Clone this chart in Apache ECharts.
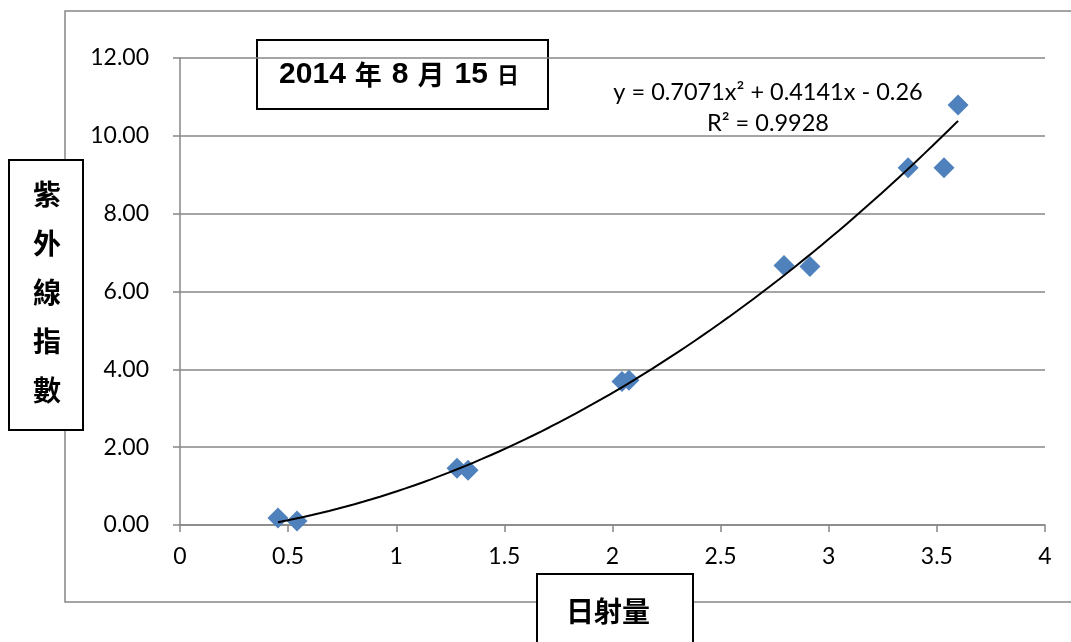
<!DOCTYPE html>
<html>
<head>
<meta charset="utf-8">
<script src="https://cdn.jsdelivr.net/npm/echarts@6/dist/echarts.min.js"></script>
<style>
  html, body { margin: 0; padding: 0; background: #fff; }
  #chart { width: 1071px; height: 642px; }
</style>
</head>
<body>
<div id="chart"></div>
<script>
// Daily radiation (x) vs. UV index (y), 2014-08-15
const radiation = [0.453, 0.541, 1.281, 1.332, 2.044, 2.076, 2.793, 2.913, 3.367, 3.533, 3.598];
const uvIndex   = [0.18, 0.10, 1.46, 1.41, 3.69, 3.72, 6.67, 6.64, 9.18, 9.18, 10.79];

// Polynomial trendline coefficients (c2, c1, c0) and its R²
const trendCoef = [0.7071, 0.4141, -0.26];
const trendR2 = 0.9928;

const xTicks = [0, 0.5, 1, 1.5, 2, 2.5, 3, 3.5, 4];
const yTicks = [0, 2, 4, 6, 8, 10, 12];

const points = radiation.map((x, i) => [x, uvIndex[i]]);

// Sample the trendline across the observed radiation range
const xLo = Math.min(...radiation), xHi = Math.max(...radiation);
const trend = [];
for (let k = 0; k <= 80; k++) {
  const x = xLo + (xHi - xLo) * k / 80;
  trend.push([x, trendCoef[0] * x * x + trendCoef[1] * x + trendCoef[2]]);
}

const fmtSigned = v => (v < 0 ? ' - ' + Math.abs(v) : ' + ' + v);
const eqText = 'y = ' + trendCoef[0] + 'x²' + fmtSigned(trendCoef[1]) + 'x' + fmtSigned(trendCoef[2]);

const tickFont = 'Lato, "Open Sans", sans-serif';
const cjkFont = '"Noto Sans CJK TC", "Noto Sans CJK SC", sans-serif';
const gridGrey = '#878787';

const chart = echarts.init(document.getElementById('chart'));
chart.setOption({
  animation: false,
  backgroundColor: '#ffffff',
  grid: { left: 180, right: 26, top: 58, bottom: 117, containLabel: false },
  xAxis: {
    type: 'value',
    min: xTicks[0], max: xTicks[xTicks.length - 1], interval: 0.5,
    axisLine: { show: true, lineStyle: { color: gridGrey, width: 1.5 } },
    axisTick: { show: true, length: 7, lineStyle: { color: gridGrey, width: 1.5 } },
    splitLine: { show: false },
    axisLabel: { color: '#000', fontFamily: tickFont, fontSize: 23, margin: 20 }
  },
  yAxis: {
    type: 'value',
    min: yTicks[0], max: yTicks[yTicks.length - 1], interval: 2,
    axisLine: { show: true, onZero: false, lineStyle: { color: gridGrey, width: 1.5 } },
    axisTick: { show: true, length: 7, lineStyle: { color: gridGrey, width: 1.5 } },
    splitLine: { show: true, lineStyle: { color: gridGrey, width: 1.5 } },
    axisLabel: {
      color: '#000', fontFamily: tickFont, fontSize: 23, margin: 31,
      formatter: v => v.toFixed(2)
    }
  },
  series: [
    {
      type: 'scatter',
      data: points,
      symbol: 'diamond',
      symbolSize: 21,
      itemStyle: { color: '#4F81BD', opacity: 1 },
      z: 2
    },
    {
      type: 'line',
      data: trend,
      showSymbol: false,
      smooth: false,
      lineStyle: { color: '#000', width: 2 },
      z: 3
    }
  ],
  graphic: [
    // chart frame (open on the right edge)
    {
      type: 'rect', z: 0,
      shape: { x: 65, y: 11, width: 1030, height: 591 },
      style: { fill: 'none', stroke: gridGrey, lineWidth: 1.5 }
    },
    // date title box
    {
      type: 'group', z: 100,
      children: [
        {
          type: 'rect',
          shape: { x: 257, y: 40, width: 291, height: 69 },
          style: { fill: '#fff', stroke: '#000', lineWidth: 2 }
        },
        {
          type: 'text',
          x: 399, y: 75,
          style: {
            text: '{n|2014}{c|年}{n|8}{c|月}{n|15}{s|日}',
            align: 'center', verticalAlign: 'middle',
            rich: {
              n: { fontFamily: '"Liberation Sans", Arial, sans-serif', fontWeight: 'bold', fontSize: 30, fill: '#000' },
              c: { fontFamily: cjkFont, fontWeight: 'bold', fontSize: 27, fill: '#000', padding: [0, 10, 0, 9] },
              s: { fontFamily: cjkFont, fontWeight: 'bold', fontSize: 22, fill: '#000', padding: [0, 0, 0, 9] }
            }
          }
        }
      ]
    },
    // trendline equation
    {
      type: 'text', z: 100,
      x: 768, y: 92,
      style: {
        text: eqText, align: 'center', verticalAlign: 'middle',
        fontFamily: tickFont, fontSize: 23.5, fill: '#000'
      }
    },
    {
      type: 'text', z: 100,
      x: 768, y: 123,
      style: {
        text: 'R² = ' + trendR2, align: 'center', verticalAlign: 'middle',
        fontFamily: tickFont, fontSize: 23.5, fill: '#000'
      }
    },
    // y-axis title box
    {
      type: 'group', z: 100,
      children: [
        {
          type: 'rect',
          shape: { x: 9, y: 160, width: 74, height: 270 },
          style: { fill: '#fff', stroke: '#000', lineWidth: 2 }
        },
        {
          type: 'text',
          x: 47, y: 292,
          style: {
            text: '紫\n外\n線\n指\n數', align: 'center', verticalAlign: 'middle',
            fontFamily: cjkFont, fontWeight: 'bold', fontSize: 28, lineHeight: 49, fill: '#000'
          }
        }
      ]
    },
    // x-axis title box
    {
      type: 'group', z: 100,
      children: [
        {
          type: 'rect',
          shape: { x: 537, y: 574, width: 156, height: 80 },
          style: { fill: '#fff', stroke: '#000', lineWidth: 2 }
        },
        {
          type: 'text',
          x: 608, y: 611,
          style: {
            text: '日射量', align: 'center', verticalAlign: 'middle',
            fontFamily: cjkFont, fontWeight: 'bold', fontSize: 28, fill: '#000'
          }
        }
      ]
    }
  ]
});
</script>
</body>
</html>
